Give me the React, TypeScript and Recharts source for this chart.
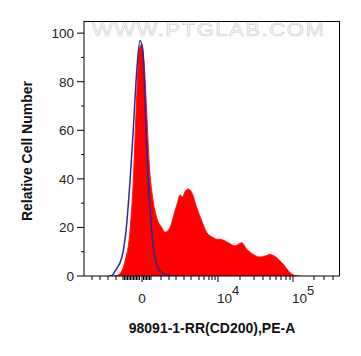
import React from 'react';
import { ComposedChart, Area, Line, XAxis, YAxis } from 'recharts';

// histogram channels (0..1024 display scale) and relative counts
const redChannels = [120, 136, 144, 164, 184, 197, 208, 221, 231, 241, 251, 261, 275, 291, 311, 324, 344, 364, 376, 384, 395, 404, 417, 431, 451, 471, 491, 517, 531, 544, 564, 577, 604, 631, 651, 677, 704, 724, 744, 771, 797, 824, 844, 864];
const redCounts = [0, 0.3, 1, 6, 18.5, 39, 67, 93, 95.5, 87, 67, 46, 32, 24, 20, 18, 20, 26.8, 31, 33.4, 32.6, 34.8, 35.8, 34.4, 28.2, 22.7, 17.9, 15.8, 15.1, 15.1, 14.4, 13.7, 12.4, 13.7, 11, 8.9, 7.8, 8.2, 8.9, 7.5, 4.8, 1.4, 0.2, 0];

const blueChannels = [100, 112, 124, 151, 168, 184, 197, 211, 224, 235, 244, 251, 261, 271, 284, 304, 331, 356, 380];
const blueCounts = [0, 0.2, 2, 7.5, 18.5, 39, 60, 84.5, 97, 92.8, 73.5, 53, 32.3, 18.5, 7.5, 2, 0.5, 0, 0];

// axis ticks
const yTicks = [0, 10, 20, 30, 40, 50, 60, 70, 80, 90, 100];
const xTicks = [32, 64, 96, 128, 156, 162, 168, 174, 180, 186, 192, 198, 204, 210, 216, 222, 232, 238, 244, 250, 256, 262, 268, 308, 340, 368, 400, 428, 460, 480, 500, 512, 524, 536, 624, 680, 716, 744, 768, 788, 808, 824, 836, 920, 960, 996];
const xMajorLabels: Record<number, [string, string]> = { 232: ['0', ''], 536: ['10', '4'], 836: ['10', '5'] };

const redData = redChannels.map((c, i) => ({ ch: c, count: redCounts[i] }));
const blueData = blueChannels.map((c, i) => ({ ch: c, count: blueCounts[i] }));

const FONT = '"Liberation Sans", Arial, sans-serif';

const YTick = (props: any) => {
  const { x, y, payload } = props;
  const major = payload.value % 20 === 0;
  return (
    <g>
      <line x1={x - (major ? 7 : 3)} x2={x} y1={y} y2={y} stroke="#000" strokeWidth={1} />
      {major && (
        <text x={x - 10} y={y + 5} textAnchor="end" fontSize={13.5} fill="#222" fontFamily={FONT}>
          {payload.value}
        </text>
      )}
    </g>
  );
};

const XTick = (props: any) => {
  const { x, y, payload } = props;
  const lab = xMajorLabels[payload.value];
  return (
    <g>
      <line x1={x} x2={x} y1={y} y2={y + (lab ? 6 : 4)} stroke="#000" strokeWidth={1} />
      {lab && lab[1] === '' && (
        <text x={x} y={y + 27} textAnchor="middle" fontSize={13.5} fill="#222" fontFamily={FONT}>
          {lab[0]}
        </text>
      )}
      {lab && lab[1] !== '' && (
        <text x={x - 1} y={y + 27} textAnchor="start" fontSize={13.5} fill="#222" fontFamily={FONT}>
          {lab[0]}
          <tspan dy={-8} fontSize={13}>{lab[1]}</tspan>
        </text>
      )}
    </g>
  );
};

export default function App() {
  return (
    <div style={{ position: 'absolute', left: 0, top: 0, width: 361, height: 356, background: '#fff' }}>
      <ComposedChart width={361} height={356} margin={{ top: 21, right: 21, left: 0, bottom: 0 }}>
        <XAxis
          dataKey="ch"
          type="number"
          domain={[0, 1024]}
          ticks={xTicks}
          interval={0}
          tick={<XTick />}
          tickLine={false}
          tickSize={0}
          tickMargin={0}
          height={80}
          axisLine={{ stroke: '#000' }}
          allowDataOverflow
          label={{
            content: (p: any) => (
              <text x={212} y={p.viewBox.y + 57} textAnchor="middle" fontSize={14} fontWeight="bold" fill="#111" fontFamily={FONT}>
                98091-1-RR(CD200),PE-A
              </text>
            ),
          }}
        />
        <YAxis
          type="number"
          domain={[0, 105]}
          ticks={yTicks}
          interval={0}
          tick={<YTick />}
          tickLine={false}
          tickSize={0}
          tickMargin={0}
          width={84}
          axisLine={{ stroke: '#000' }}
          allowDataOverflow
          label={{
            content: () => (
              <text
                x={32}
                y={151}
                transform="rotate(-90 32 151)"
                textAnchor="middle"
                fontSize={14}
                fontWeight="bold"
                fill="#111"
                fontFamily={FONT}
              >
                Relative Cell Number
              </text>
            ),
          }}
        />
        <Area
          data={redData}
          dataKey="count"
          type="monotone"
          fill="#ff0000"
          fillOpacity={1}
          stroke="#ff1a1a"
          strokeWidth={1}
          isAnimationActive={false}
          dot={false}
          activeDot={false}
        />
        <Line
          data={blueData}
          dataKey="count"
          type="monotone"
          stroke="#2c2a8e"
          strokeWidth={1.5}
          dot={false}
          activeDot={false}
          isAnimationActive={false}
        />
      </ComposedChart>
      {/* plot frame */}
      <div
        style={{
          position: 'absolute',
          left: 84,
          top: 21,
          width: 256,
          height: 255,
          borderTop: '1px solid #000',
          borderRight: '1px solid #000',
          boxSizing: 'border-box',
          pointerEvents: 'none',
        }}
      />
      <div
        style={{
          position: 'absolute',
          left: 92,
          top: 21,
          fontFamily: FONT,
          fontSize: 18,
          lineHeight: '18px',
          color: '#fbfbfb',
          WebkitTextStroke: '0.6px #cfcfcf',
          letterSpacing: 1.3,
          whiteSpace: 'nowrap',
          transform: 'scaleX(1.22)',
          transformOrigin: 'left top',
        }}
      >
        WWW.PTGLAB.COM
      </div>
    </div>
  );
}
